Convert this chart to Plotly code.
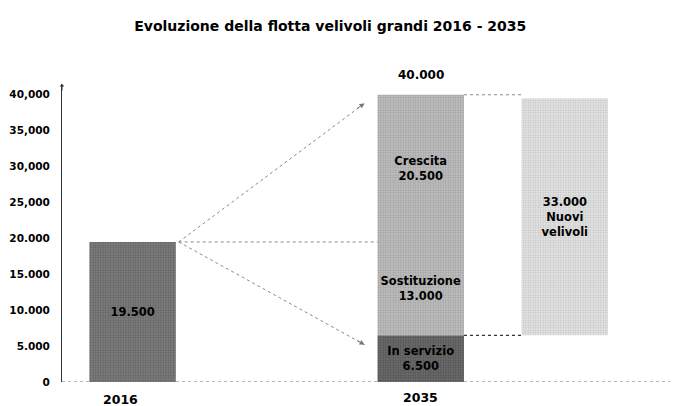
import plotly.graph_objects as go

# ---- data ----
title = "Evoluzione della flotta velivoli grandi 2016 - 2035"
years = ["2016", "2035"]
fleet_2016 = 19500
in_servizio_2035 = 6500
sostituzione_2035 = 13000
crescita_2035 = 20500
totale_2035 = 40000
nuovi_velivoli = 33000
y_tickvals = [0, 5000, 10000, 15000, 20000, 25000, 30000, 35000, 40000]
y_ticktext = ["0", "5.000", "10.000", "15.000", "20.000", "25,000", "30,000", "35,000", "40,000"]

# ---- layout helpers ----
pos = {"2016": 0, "2035": 2, "nuovi": 3}
bw = 0.6
FONT = "DejaVu Sans"


def fmt(v):
    return f"{v:,}".replace(",", ".")


def pat(bg, fg):
    return dict(color=bg, pattern=dict(shape=".", fgcolor=fg, bgcolor=bg, size=2.5, solidity=0.3),
                line=dict(width=0))


txtfont = dict(family=FONT, size=11.5, color="black", weight="bold")

fig = go.Figure()
fig.add_bar(x=[pos["2016"]], y=[fleet_2016], base=[0], width=bw,
            marker=pat("#7c7c7c", "#3a3a3a"),
            text=[fmt(fleet_2016)], textposition="inside", insidetextanchor="middle",
            textangle=0, textfont=txtfont, hoverinfo="skip")
fig.add_bar(x=[pos["2035"]], y=[in_servizio_2035], base=[0], width=bw,
            marker=pat("#6a6a6a", "#303030"),
            text=["In servizio<br>" + fmt(in_servizio_2035)], textposition="inside",
            insidetextanchor="middle", textangle=0, textfont=txtfont, hoverinfo="skip")
fig.add_bar(x=[pos["2035"]], y=[sostituzione_2035], base=[in_servizio_2035], width=bw,
            marker=pat("#bdbdbd", "#7a7a7a"),
            text=["Sostituzione<br>" + fmt(sostituzione_2035)], textposition="inside",
            insidetextanchor="middle", textangle=0, textfont=txtfont, hoverinfo="skip")
fig.add_bar(x=[pos["2035"]], y=[crescita_2035], base=[in_servizio_2035 + sostituzione_2035], width=bw,
            marker=pat("#bdbdbd", "#7a7a7a"),
            text=["Crescita<br>" + fmt(crescita_2035)], textposition="inside",
            insidetextanchor="middle", textangle=0, textfont=txtfont, hoverinfo="skip")
fig.add_bar(x=[pos["nuovi"]], y=[nuovi_velivoli], base=[in_servizio_2035], width=bw,
            marker=pat("#e3e3e3", "#9c9c9c"),
            text=[fmt(nuovi_velivoli) + "<br>Nuovi<br>velivoli"], textposition="inside",
            insidetextanchor="middle", textangle=0, textfont=txtfont, hoverinfo="skip")

# dotted connector lines
x16r = pos["2016"] + bw / 2 + 0.02
x35l = pos["2035"] - bw / 2 - 0.09
x35r = pos["2035"] + bw / 2
xnl = pos["nuovi"] - bw / 2
dot = dict(color="#8a8a8a", width=1, dash="dot")
lines = [
    ([x16r, x35l], [fleet_2016, totale_2035 - 1200]),
    ([x16r, x35l], [fleet_2016, in_servizio_2035 - 1300]),
    ([x16r, pos["2035"] - bw / 2], [fleet_2016, fleet_2016]),
    ([x35r, xnl], [totale_2035, totale_2035]),
]
for xs, ys in lines:
    fig.add_scatter(x=xs, y=ys, mode="lines", line=dot, hoverinfo="skip", showlegend=False)
fig.add_scatter(x=[x35r, xnl], y=[in_servizio_2035, in_servizio_2035], mode="lines",
                line=dict(color="#333", width=1.2, dash="dot"), hoverinfo="skip", showlegend=False)

# arrow heads at end of diagonal lines
fig.add_annotation(x=x35l, y=totale_2035 - 1200, xref="x", yref="y", ax=-9, ay=6,
                   showarrow=True, arrowhead=2, arrowsize=1, arrowwidth=1, arrowcolor="#777", text="")
fig.add_annotation(x=x35l, y=in_servizio_2035 - 1300, xref="x", yref="y", ax=-9, ay=-5,
                   showarrow=True, arrowhead=2, arrowsize=1, arrowwidth=1, arrowcolor="#777", text="")

# total label above 2035 bar
fig.add_annotation(x=pos["2035"], y=totale_2035, xref="x", yref="y", yanchor="middle", yshift=20,
                   text=fmt(totale_2035), showarrow=False,
                   font=dict(family=FONT, size=12, color="black", weight="bold"))

# category labels
yearfont = dict(family=FONT, size=12.5, color="black", weight="bold")
fig.add_annotation(x=pos["2016"], y=0, xref="x", yref="y", xshift=-12, yshift=-17, yanchor="middle",
                   text=years[0], showarrow=False, font=yearfont)
fig.add_annotation(x=pos["2035"], y=0, xref="x", yref="y", xshift=0, yshift=-15, yanchor="middle",
                   text=years[1], showarrow=False, font=yearfont)

# y-axis arrow head
fig.add_annotation(x=0, y=1.0, xref="paper", yref="paper", ax=0, ay=8, showarrow=True,
                   arrowhead=1, arrowsize=0.8, arrowwidth=1, arrowcolor="#333", text="")

# dotted baseline
fig.add_shape(type="line", xref="paper", yref="y", x0=0, x1=1, y0=0, y1=0,
              line=dict(color="#777", width=1, dash="dot"))

# the page body adds an 8px offset; the figure is sized to fill the rest of the window
fig.update_layout(
    width=670, height=398,
    margin=dict(l=54, r=8, t=76, b=24, autoexpand=False),
    paper_bgcolor="white", plot_bgcolor="white",
    barmode="overlay", showlegend=False,
    title=dict(text=title, x=0.481, xanchor="center", y=0.955, yanchor="middle",
               font=dict(family=FONT, size=14, color="black", weight="bold")),
    xaxis=dict(range=[-0.49, 3.73], showticklabels=False, automargin=False,
               showgrid=False, zeroline=False, showline=False, ticks=""),
    yaxis=dict(range=[0, 41500], tickvals=y_tickvals, ticktext=y_ticktext, automargin=False,
               showgrid=False, zeroline=False, showline=True, linecolor="#333", linewidth=1,
               ticks="", tickfont=dict(family=FONT, size=10.5, color="black", weight="bold"),
               ticklabelstandoff=9),
)

fig.write_html("out.html")
